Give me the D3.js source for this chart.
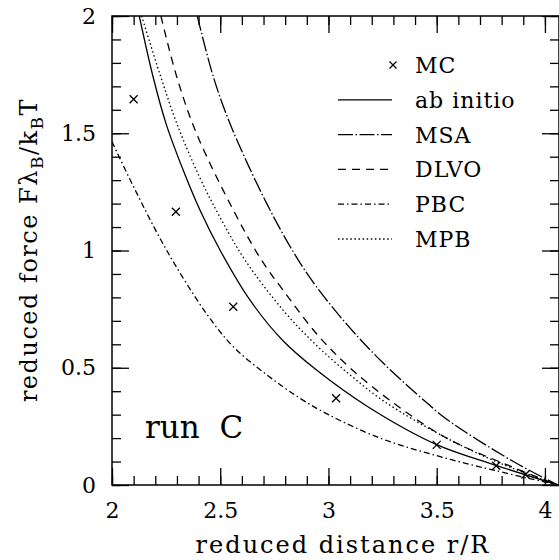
<!DOCTYPE html>
<meta charset="utf-8">
<style>
 body { margin: 0; background: #fff; }
 text { font-family: "DejaVu Serif", serif; fill: #000; }
 .axis path { display: none; }
 .axis line { stroke: #000; stroke-width: 1.3; }
</style>
<body>
<script src="https://cdn.jsdelivr.net/npm/d3@7"></script>
<script>

 // values
 var xTicks = [2, 2.5, 3, 3.5, 4];
 var yTicks = [0, 0.5, 1, 1.5, 2];

 var mcPoints = [[2.10, 1.645], [2.295, 1.165], [2.56, 0.76], [3.035, 0.37],
                 [3.50, 0.171], [3.775, 0.082], [3.91, 0.045]];

 var abInitio = [[2.126, 2.0], [2.19, 1.74], [2.25, 1.54], [2.33, 1.34], [2.41, 1.165],
                 [2.50, 1.0], [2.637, 0.789], [2.79, 0.615], [2.945, 0.49], [3.18, 0.335],
                 [3.50, 0.172], [3.77, 0.085], [4.06, 0]];

 var msa = [[2.394, 2.0], [2.468, 1.741], [2.55, 1.53], [2.715, 1.20], [2.85, 0.975],
            [2.945, 0.845], [3.099, 0.67], [3.253, 0.52], [3.461, 0.345], [3.546, 0.28],
            [3.854, 0.10], [4.06, 0]];

 var dlvo = [[2.226, 2.0], [2.299, 1.741], [2.39, 1.5], [2.56, 1.173], [2.69, 0.96],
             [2.791, 0.83], [2.945, 0.645], [3.099, 0.50], [3.30, 0.35], [3.546, 0.20],
             [3.854, 0.075], [4.06, 0]];

 var pbc = [[2.0, 1.464], [2.098, 1.275], [2.253, 1.0], [2.437, 0.73], [2.56, 0.59],
            [2.715, 0.47], [2.868, 0.37], [3.0, 0.30], [3.238, 0.20], [3.50, 0.125],
            [3.769, 0.062], [4.06, 0]];

 var mpb = [[2.137, 2.0], [2.222, 1.75], [2.30, 1.54], [2.406, 1.31], [2.50, 1.14],
            [2.614, 0.96], [2.791, 0.745], [2.945, 0.595], [3.099, 0.47], [3.26, 0.355],
            [3.546, 0.20], [3.80, 0.09], [4.06, 0]];

 var seriesNames = ["ab initio", "MSA", "DLVO", "PBC", "MPB"];
 var seriesData = [abInitio, msa, dlvo, pbc, mpb];
 var seriesDash = [null, "15,2.5,1.5,2.5", "8,6", "6,3,1.5,3", "1.5,2.6"];

 var width = 559, height = 560;

 var xScale = d3.scaleLinear().domain([2, 4.065]).range([112, 559]);
 var yScale = d3.scaleLinear().domain([0, 2]).range([485, 16]);

 var svg = d3.select("body").append("svg")
             .attr("width", width)
             .attr("height", height);

 var x0 = xScale.range()[0], x1 = xScale.range()[1],
     y0 = yScale.range()[0], y1 = yScale.range()[1];

 var xMinor = d3.range(20, 41).map(function(d) { return d / 10; });
 var yMinor = d3.range(0, 21).map(function(d) { return d / 10; });
 var fmt = d3.format("~g");

 // minor ticks on all four sides
 svg.append("g").attr("class", "axis").attr("transform", "translate(0," + y0 + ")")
    .call(d3.axisBottom(xScale).tickValues(xMinor).tickSize(-9).tickFormat(""));
 svg.append("g").attr("class", "axis").attr("transform", "translate(0," + y1 + ")")
    .call(d3.axisTop(xScale).tickValues(xMinor).tickSize(-9).tickFormat(""));
 svg.append("g").attr("class", "axis").attr("transform", "translate(" + x0 + ",0)")
    .call(d3.axisLeft(yScale).tickValues(yMinor).tickSize(-9).tickFormat(""));
 svg.append("g").attr("class", "axis").attr("transform", "translate(" + x1 + ",0)")
    .call(d3.axisRight(yScale).tickValues(yMinor).tickSize(-9).tickFormat(""));

 // major ticks
 svg.append("g").attr("class", "axis").attr("transform", "translate(0," + y0 + ")")
    .call(d3.axisBottom(xScale).tickValues(xTicks).tickSize(-17).tickPadding(17).tickFormat(fmt));
 svg.append("g").attr("class", "axis").attr("transform", "translate(0," + y1 + ")")
    .call(d3.axisTop(xScale).tickValues(xTicks).tickSize(-17).tickFormat(""));
 svg.append("g").attr("class", "axis").attr("transform", "translate(" + x0 + ",0)")
    .call(d3.axisLeft(yScale).tickValues(yTicks).tickSize(-17).tickPadding(16).tickFormat(fmt));
 svg.append("g").attr("class", "axis").attr("transform", "translate(" + x1 + ",0)")
    .call(d3.axisRight(yScale).tickValues(yTicks).tickSize(-17).tickFormat(""));

 svg.selectAll(".axis text").style("font-family", "DejaVu Serif").style("font-size", "22px");

 // frame
 svg.append("rect")
    .attr("x", x0).attr("y", y1)
    .attr("width", x1 - x0).attr("height", y0 - y1)
    .attr("fill", "none").attr("stroke", "#000").attr("stroke-width", 1.5);

 svg.append("clipPath").attr("id", "clip")
    .append("rect").attr("x", x0).attr("y", y1).attr("width", x1 - x0).attr("height", y0 - y1);

 var line = d3.line()
              .x(function(d) { return xScale(d[0]); })
              .y(function(d) { return yScale(d[1]); })
              .curve(d3.curveCatmullRom.alpha(0.5));

 var chart = svg.append("g").attr("clip-path", "url(#clip)");

 seriesData.forEach(function(data, i) {
     chart.append("path")
          .datum(data)
          .attr("fill", "none")
          .attr("stroke", "#000")
          .attr("stroke-width", 1.3)
          .attr("stroke-dasharray", seriesDash[i])
          .attr("d", line);
 });

 // MC crosses
 var cross = 4;
 chart.selectAll(".mc")
      .data(mcPoints)
      .enter().append("path")
      .attr("class", "mc")
      .attr("fill", "none")
      .attr("stroke", "#000")
      .attr("stroke-width", 1.3)
      .attr("d", function(d) {
          var cx = xScale(d[0]), cy = yScale(d[1]);
          return "M" + (cx - cross) + "," + (cy - cross) + "L" + (cx + cross) + "," + (cy + cross) +
                 "M" + (cx - cross) + "," + (cy + cross) + "L" + (cx + cross) + "," + (cy - cross);
      });

 // legend
 var legend = svg.append("g").attr("transform", "translate(338,65)");
 var rowH = 34.8;

 legend.append("path")
       .attr("stroke", "#000").attr("stroke-width", 1.2).attr("fill", "none")
       .attr("d", "M51.5,-3.5L58.5,3.5M51.5,3.5L58.5,-3.5");
 legend.append("text").attr("x", 77).attr("y", 8)
       .style("font-size", "22px").style("letter-spacing", "1px").text("MC");

 seriesNames.forEach(function(name, i) {
     var yy = (i + 1) * rowH;
     legend.append("line")
           .attr("x1", 0).attr("x2", 54).attr("y1", yy).attr("y2", yy)
           .attr("stroke", "#000").attr("stroke-width", 1.3)
           .attr("stroke-dasharray", seriesDash[i]);
     legend.append("text").attr("x", 77).attr("y", yy + 8)
           .style("font-size", "22px").style("letter-spacing", "1px").text(name);
 });

 // run label
 svg.append("text")
    .attr("x", 145).attr("y", 438)
    .style("font-size", "31px").style("white-space", "pre")
    .text("run  C");

 // axis titles
 svg.append("text")
    .attr("x", 343).attr("y", 553)
    .attr("text-anchor", "middle")
    .style("font-size", "24px").style("letter-spacing", "2px")
    .text("reduced distance r/R");

 var yt = svg.append("text")
             .attr("transform", "translate(37,250) rotate(-90)")
             .attr("text-anchor", "middle")
             .style("font-size", "24px").style("letter-spacing", "1.5px");
 yt.append("tspan").text("reduced force F\u03bb");
 yt.append("tspan").attr("dy", 6).style("font-size", "17px").text("B");
 yt.append("tspan").attr("dy", -6).text("/k");
 yt.append("tspan").attr("dy", 6).style("font-size", "17px").text("B");
 yt.append("tspan").attr("dy", -6).text("T");

</script>
</body>
